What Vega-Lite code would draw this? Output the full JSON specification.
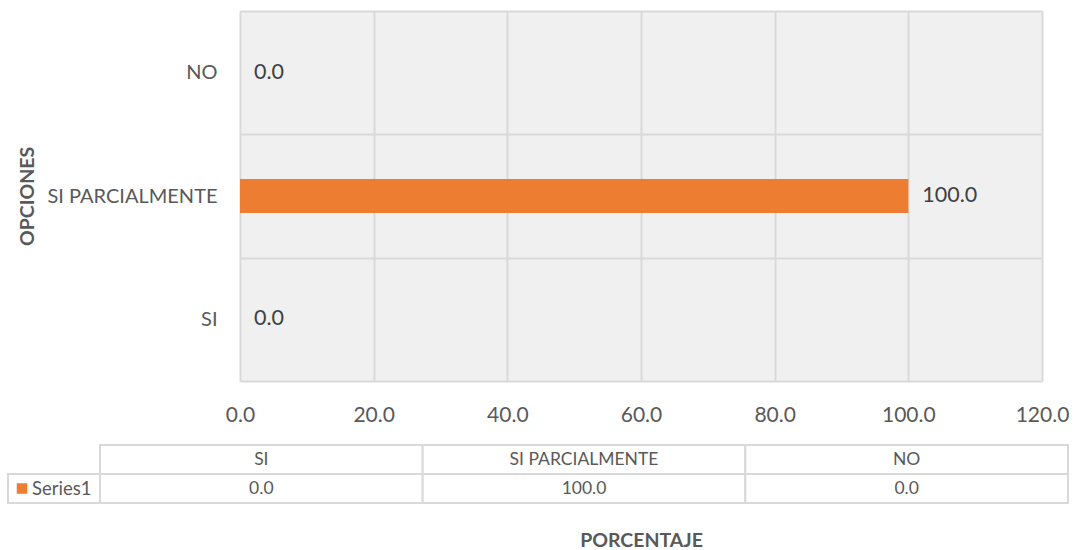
{
  "$schema": "https://vega.github.io/schema/vega-lite/v6.json",
  "padding": {"left": 7, "top": 1, "right": 0, "bottom": 0},
  "background": "white",
  "config": {"font": "Lato", "view": {"stroke": null}},
  "datasets": {
    "encuesta": [
      {"opcion": "SI", "porcentaje": 0},
      {"opcion": "SI PARCIALMENTE", "porcentaje": 100},
      {"opcion": "NO", "porcentaje": 0}
    ]
  },
  "width": 802,
  "height": 370,
  "view": {"fill": "#f0f0f0", "stroke": null},
  "resolve": {"scale": {"x": "independent", "y": "independent"}},
  "layer": [
    {
      "data": {"name": "encuesta"},
      "encoding": {
        "y": {
          "field": "opcion",
          "type": "nominal",
          "sort": ["NO", "SI PARCIALMENTE", "SI"],
          "scale": {"paddingInner": 0, "paddingOuter": 0},
          "axis": {
            "title": "OPCIONES",
            "tickBand": "extent",
            "grid": true,
            "gridColor": "#d9d9d9",
            "gridWidth": 2,
            "ticks": false,
            "domain": false,
            "labelFontSize": 20,
            "labelColor": "#595959",
            "labelPadding": 23,
            "titleFontSize": 19.5,
            "titleFontWeight": "bold",
            "titleColor": "#595959",
            "titlePadding": 9
          }
        },
        "x": {
          "field": "porcentaje",
          "type": "quantitative",
          "scale": {"domain": [0, 120], "nice": false},
          "axis": {
            "title": "PORCENTAJE",
            "values": [0, 20, 40, 60, 80, 100, 120],
            "format": ".1f",
            "grid": true,
            "gridColor": "#d9d9d9",
            "gridWidth": 2,
            "ticks": false,
            "domain": false,
            "labelFlush": false,
            "labelFontSize": 21,
            "labelColor": "#595959",
            "labelPadding": 23,
            "titleFontSize": 19.5,
            "titleFontWeight": "bold",
            "titleColor": "#595959",
            "titlePadding": 106
          }
        }
      },
      "layer": [
        {"mark": {"type": "bar", "color": "#ED7D31", "height": {"band": 0.276}}},
        {
          "mark": {"type": "text", "align": "left", "baseline": "middle", "dx": 14, "fontSize": 21.5, "color": "#404040"},
          "encoding": {"text": {"field": "porcentaje", "type": "quantitative", "format": ".1f"}}
        }
      ]
    },
    {
      "data": {"name": "encuesta"},
      "encoding": {
        "x": {
          "field": "opcion",
          "type": "nominal",
          "sort": ["SI", "SI PARCIALMENTE", "NO"],
          "scale": {"range": [-140, 828], "paddingInner": 0, "paddingOuter": 0},
          "axis": null
        },
        "y": {
          "datum": "cabecera",
          "type": "nominal",
          "scale": {"domain": ["cabecera", "valor"], "range": [434, 492], "paddingInner": 0, "paddingOuter": 0},
          "axis": null
        }
      },
      "layer": [
        {"mark": {"type": "rect", "fill": "white", "stroke": "#d9d9d9", "strokeWidth": 2}},
        {
          "mark": {"type": "rect", "fill": "white", "stroke": "#d9d9d9", "strokeWidth": 2},
          "encoding": {"y": {"datum": "valor", "type": "nominal", "axis": null}}
        },
        {
          "mark": {"type": "text", "baseline": "middle", "fontSize": 17.5, "color": "#595959"},
          "encoding": {"text": {"field": "opcion", "type": "nominal"}}
        },
        {
          "mark": {"type": "text", "baseline": "middle", "fontSize": 17.5, "color": "#595959"},
          "encoding": {
            "y": {"datum": "valor", "type": "nominal", "axis": null},
            "text": {"field": "porcentaje", "type": "quantitative", "format": ".1f"}
          }
        }
      ]
    },
    {
      "data": {"values": [{"serie": "Series1"}]},
      "encoding": {
        "x": {
          "field": "serie",
          "type": "nominal",
          "scale": {"range": [-232, -140], "paddingInner": 0, "paddingOuter": 0},
          "axis": null
        },
        "y": {
          "datum": "valor",
          "type": "nominal",
          "scale": {"domain": ["cabecera", "valor"], "range": [434, 492], "paddingInner": 0, "paddingOuter": 0},
          "axis": null
        }
      },
      "layer": [
        {"mark": {"type": "rect", "fill": "white", "stroke": "#d9d9d9", "strokeWidth": 2}},
        {
          "mark": {"type": "square", "color": "#ED7D31", "filled": true, "opacity": 1, "size": 110, "xOffset": 14},
          "encoding": {"x": {"field": "serie", "type": "nominal", "bandPosition": 0, "axis": null}}
        },
        {
          "mark": {"type": "text", "align": "left", "baseline": "middle", "dx": 24, "fontSize": 18.5, "color": "#595959"},
          "encoding": {
            "x": {"field": "serie", "type": "nominal", "bandPosition": 0, "axis": null},
            "text": {"field": "serie"}
          }
        }
      ]
    }
  ]
}
